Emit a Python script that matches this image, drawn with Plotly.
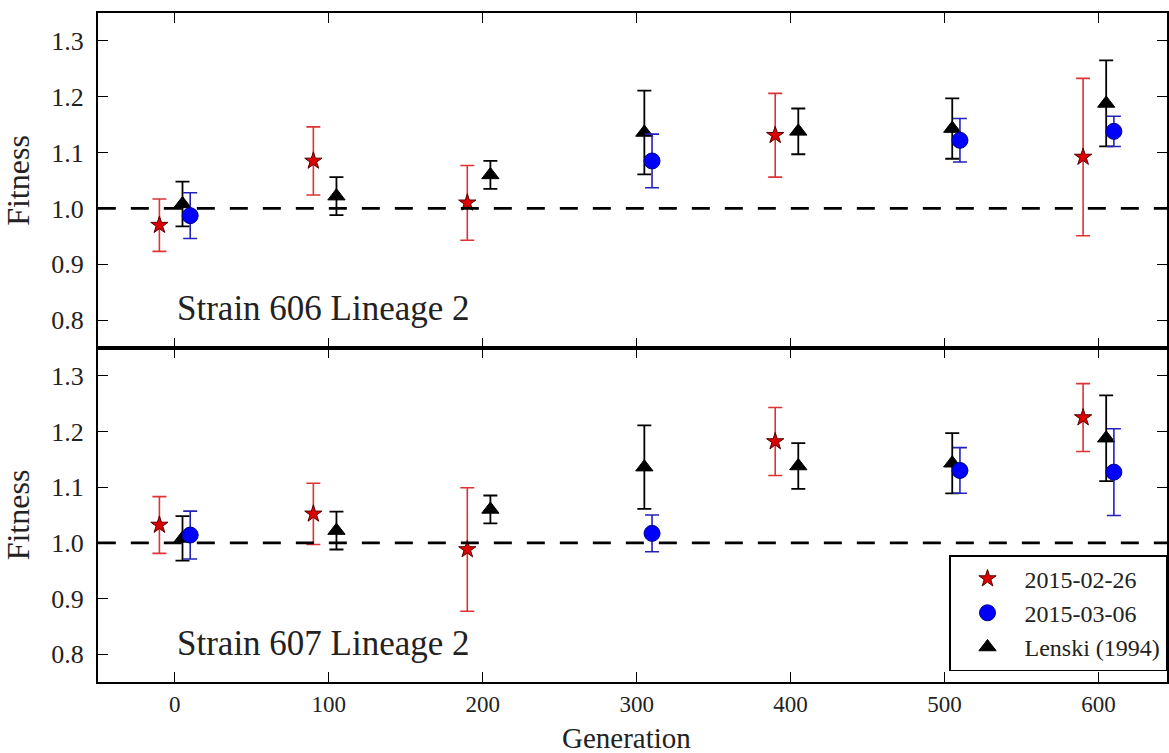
import plotly.graph_objects as go
from plotly.subplots import make_subplots

# ---------------- data ----------------
gen_feb = [-10, 90, 190, 390, 590]
gen_mar = [10, 310, 510, 610]
gen_lenski = [5, 105, 205, 305, 405, 505, 605]

fit606_feb = [0.970, 1.085, 1.010, 1.131, 1.092]
err606_feb = [0.047, 0.061, 0.067, 0.075, 0.141]
fit606_mar = [0.987, 1.085, 1.122, 1.138]
err606_mar = [0.041, 0.048, 0.039, 0.027]

fit607_feb = [1.032, 1.052, 0.988, 1.182, 1.225]
err607_feb = [0.051, 0.055, 0.111, 0.061, 0.061]
fit607_mar = [1.014, 1.017, 1.130, 1.127]
err607_mar = [0.043, 0.033, 0.041, 0.078]

fit_lenski = [1.008, 1.022, 1.060, 1.136, 1.138, 1.143, 1.188]
err_lenski = [0.040, 0.034, 0.025, 0.075, 0.041, 0.054, 0.077]

panel_labels = ["Strain 606 Lineage 2", "Strain 607 Lineage 2"]
series_names = ["2015-02-26", "2015-03-06", "Lenski (1994)"]
y_ticks = [0.8, 0.9, 1.0, 1.1, 1.2, 1.3]
x_ticks = [0, 100, 200, 300, 400, 500, 600]
reference_fitness = 1.0
x_title = "Generation"
y_title = "Fitness"

FONT = "Liberation Serif"
TXT = "#222"
W, H = 1169, 753

fig = make_subplots(rows=2, cols=1, shared_xaxes=True, vertical_spacing=0)

panels = [
    (fit606_feb, err606_feb, fit606_mar, err606_mar),
    (fit607_feb, err607_feb, fit607_mar, err607_mar),
]

for i, (ff, ef, fm, em) in enumerate(panels):
    row = i + 1
    show = (row == 2)
    fig.add_trace(go.Scatter(
        x=gen_feb, y=ff, mode="markers", name=series_names[0],
        legendrank=1, showlegend=show,
        marker=dict(symbol="star", size=13, color="#dd0000",
                    line=dict(color="#550000", width=1)),
        error_y=dict(type="data", array=ef, color="#dd3333", thickness=1.6, width=7),
    ), row=row, col=1)
    fig.add_trace(go.Scatter(
        x=gen_lenski, y=fit_lenski, mode="markers", name=series_names[2],
        legendrank=3, showlegend=show,
        marker=dict(symbol="triangle-up", size=15, color="black",
                    line=dict(color="black", width=1)),
        error_y=dict(type="data", array=err_lenski, color="black", thickness=1.8, width=7),
    ), row=row, col=1)
    fig.add_trace(go.Scatter(
        x=gen_mar, y=fm, mode="markers", name=series_names[1],
        legendrank=2, showlegend=show,
        marker=dict(symbol="circle", size=16, color="#0000ff",
                    line=dict(color="#000088", width=1)),
        error_y=dict(type="data", array=em, color="#2222bb", thickness=1.6, width=7),
    ), row=row, col=1)
    fig.add_hline(y=reference_fitness, row=row, col=1,
                  line=dict(color="black", width=2.6, dash="18px,15px"))
    fig.add_annotation(
        x=0, y=0.82, xref=f"x{'' if row == 1 else row}", yref=f"y{'' if row == 1 else row}",
        text=panel_labels[i], showarrow=False, xanchor="left", yanchor="middle",
        font=dict(family=FONT, size=35, color=TXT),
    )

axis_common = dict(
    showline=True, linecolor="black", linewidth=2, mirror="allticks",
    ticks="inside", ticklen=10, tickwidth=1.2, tickcolor="black",
    showgrid=False, zeroline=False,
    tickfont=dict(family=FONT, size=26, color=TXT),
)

x_dom = [98 / W, 1.0]
top_dom = [(H - 348) / H, (H - 13) / H]
bot_dom = [(H - 682) / H, (H - 348) / H]

fig.update_xaxes(axis_common, range=[-50, 644.5], tickvals=x_ticks, domain=x_dom,
                 ticklabelstandoff=0, tickfont=dict(family=FONT, size=23, color=TXT))
fig.update_xaxes(showticklabels=False, row=1, col=1)
fig.update_yaxes(axis_common, range=[0.75, 1.35], tickvals=y_ticks, tickformat=".1f",
                 ticklabelstandoff=7)
fig.update_yaxes(domain=top_dom, row=1, col=1)
fig.update_yaxes(domain=bot_dom, row=2, col=1)
for r in (1, 2):
    fig.update_yaxes(title=dict(text=y_title, font=dict(family=FONT, size=32, color=TXT),
                                standoff=12), row=r, col=1)

# x-axis title placed as paper annotation (centred under the plot area)
fig.add_annotation(
    x=(x_dom[0] + x_dom[1]) / 2 - 0.005, y=0.0, xref="paper", yref="paper",
    text=x_title, showarrow=False, xanchor="center", yanchor="bottom", yshift=-3,
    font=dict(family=FONT, size=29, color=TXT),
)

fig.update_layout(
    width=W, height=H,
    margin=dict(l=0, r=0, t=0, b=0),
    paper_bgcolor="white", plot_bgcolor="white",
    legend=dict(
        x=1.0, y=(H - 671) / H, xanchor="right", yanchor="bottom",
        bgcolor="white", bordercolor="black", borderwidth=1.5,
        font=dict(family=FONT, size=24, color=TXT),
        itemwidth=64, tracegroupgap=0,
    ),
)

fig.write_html("out.html")
